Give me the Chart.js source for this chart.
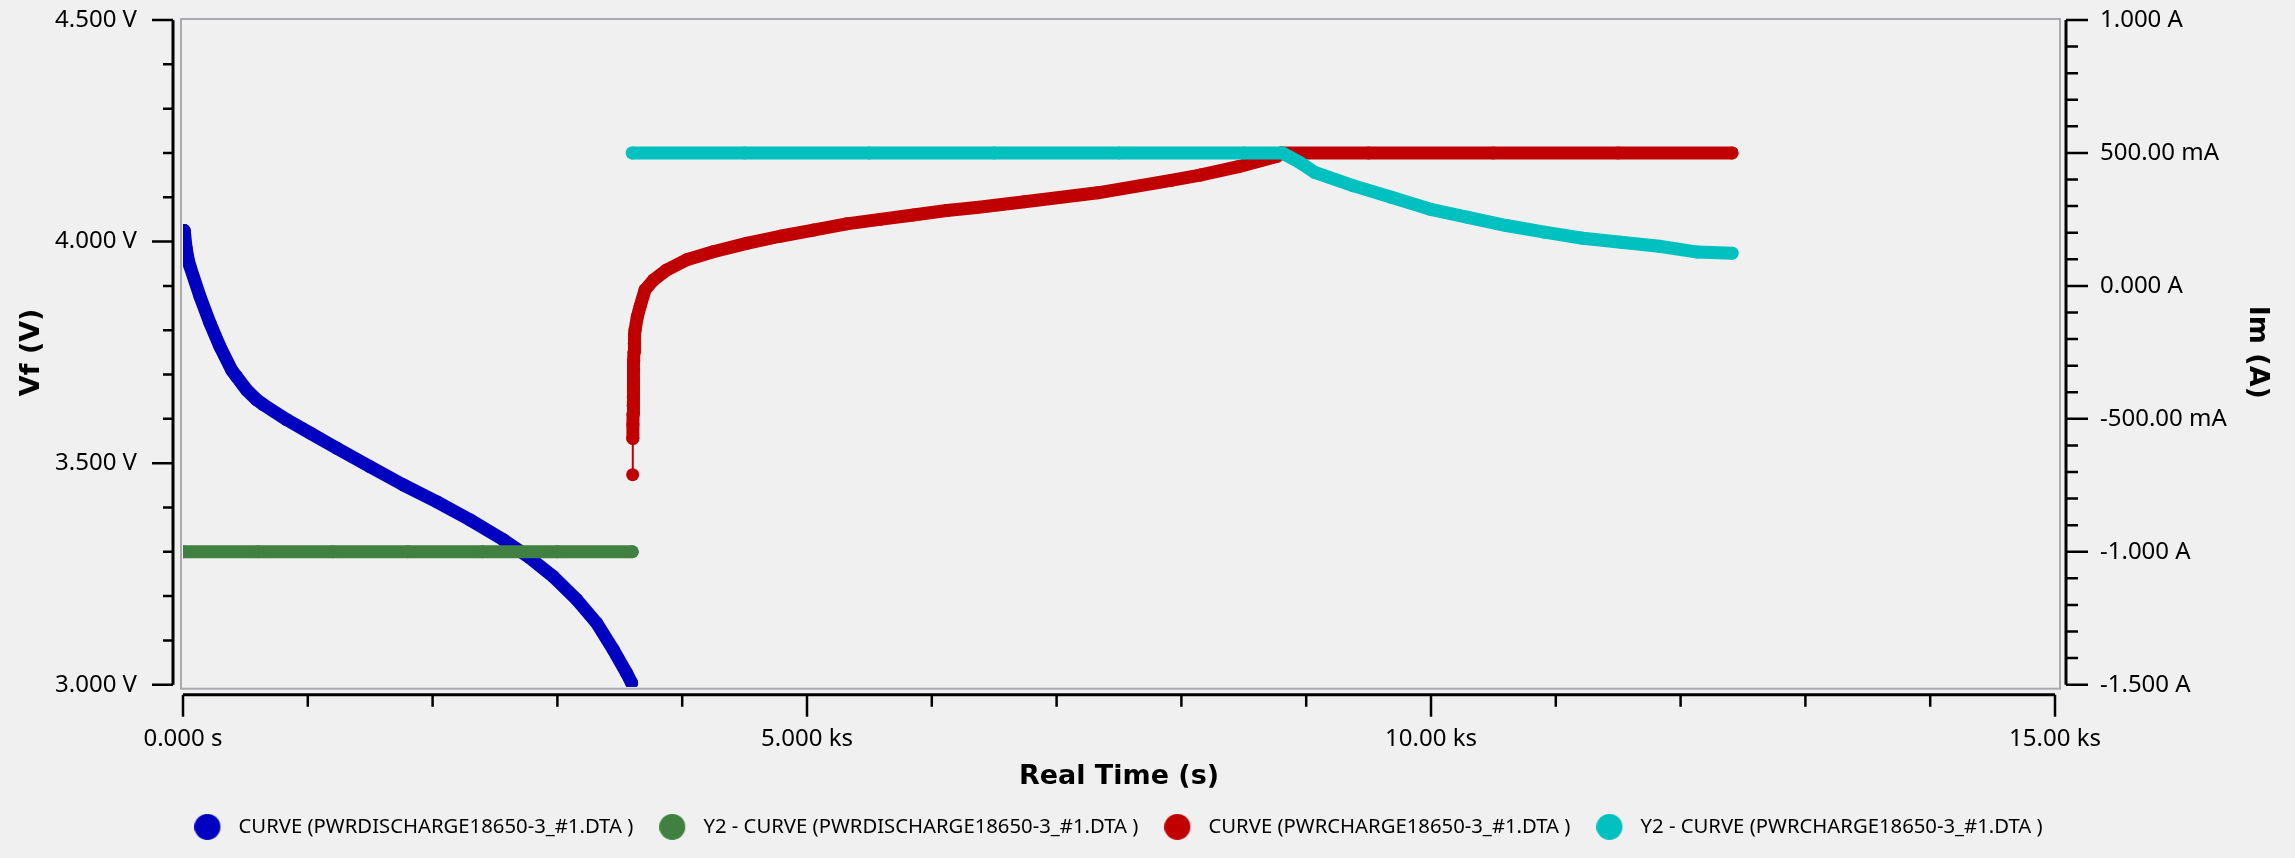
<!DOCTYPE html>
<html>
<head>
<meta charset="utf-8">
<title>Vf / Im vs Real Time</title>
<script src="https://cdn.jsdelivr.net/npm/chart.js@4.4.1/dist/chart.umd.min.js"></script>
<style>
  html, body { margin: 0; padding: 0; background: #f0f0f0; }
  #wrap { width: 2295px; height: 858px; }
</style>
</head>
<body>
<div id="wrap"><canvas id="myChart"></canvas></div>
<script>
// discharge file: PWRDISCHARGE18650-3_#1.DTA
const dischargeTime = [10, 25, 45, 56, 136, 216, 296, 390, 430, 510, 590, 644, 831, 1018, 1231, 1498, 1765, 2033, 2300, 2567, 2780, 2967, 3155, 3315, 3448, 3555, 3595];
const dischargeVf = [4.025, 3.985, 3.955, 3.944, 3.876, 3.816, 3.763, 3.710, 3.695, 3.665, 3.643, 3.632, 3.598, 3.568, 3.534, 3.492, 3.451, 3.413, 3.372, 3.327, 3.286, 3.244, 3.192, 3.139, 3.079, 3.026, 3.004];
const dischargeImTime = [0, 600, 1200, 1800, 2400, 3000, 3600];
const dischargeIm = [-1.0, -1.0, -1.0, -1.0, -1.0, -1.0, -1.0];

// charge file: PWRCHARGE18650-3_#1.DTA
const chargeTime = [3603, 3604, 3605, 3606, 3607, 3608, 3609, 3610, 3611, 3612, 3614, 3616, 3619, 3622, 3640, 3662, 3702, 3769, 3876, 4036, 4249, 4516, 4784, 5051, 5318, 5585, 5852, 6119, 6360, 6744, 7330, 7917, 8149, 8457, 8762, 8800, 9500, 10500, 11500, 12412];
const chargeVf = [3.474, 3.556, 3.586, 3.610, 3.630, 3.650, 3.670, 3.690, 3.710, 3.730, 3.750, 3.770, 3.790, 3.800, 3.830, 3.853, 3.891, 3.913, 3.936, 3.959, 3.977, 3.996, 4.012, 4.026, 4.040, 4.050, 4.060, 4.070, 4.077, 4.090, 4.110, 4.138, 4.150, 4.169, 4.192, 4.200, 4.200, 4.200, 4.200, 4.200];
const chargeImTime = [3600, 4500, 5500, 6500, 7500, 8500, 8809, 8946, 9068, 9375, 9683, 9989, 10296, 10603, 10909, 11216, 11522, 11829, 12135, 12412];
const chargeIm = [0.5, 0.5, 0.5, 0.5, 0.5, 0.5, 0.5, 0.465, 0.427, 0.377, 0.333, 0.289, 0.258, 0.227, 0.202, 0.179, 0.164, 0.149, 0.127, 0.123];

const seriesNames = [
  'CURVE (PWRDISCHARGE18650-3_#1.DTA )',
  'Y2 - CURVE (PWRDISCHARGE18650-3_#1.DTA )',
  'CURVE (PWRCHARGE18650-3_#1.DTA )',
  'Y2 - CURVE (PWRCHARGE18650-3_#1.DTA )'
];
const seriesColors = ['#0000c0', '#408040', '#c00000', '#00c0c0'];

const timeTicks = [0, 5000, 10000, 15000];
const timeTickLabels = ['0.000 s', '5.000 ks', '10.00 ks', '15.00 ks'];
const vfTicks = [3, 3.5, 4, 4.5];
const vfTickLabels = ['3.000 V', '3.500 V', '4.000 V', '4.500 V'];
const imTicks = [-1.5, -1, -0.5, 0, 0.5, 1];
const imTickLabels = ['-1.500 A', '-1.000 A', '-500.00 mA', '0.000 A', '500.00 mA', '1.000 A'];

Chart.defaults.font.family = 'Noto Sans';
Chart.defaults.color = '#000';

function pts(xs, ys){
  return xs.map((x, i) => ({x: x, y: ys[i]}));
}

function makeSet(i, xs, ys, axis, order){
  return {
    label: seriesNames[i],
    data: pts(xs, ys),
    yAxisID: axis,
    order: order,
    borderColor: seriesColors[i],
    backgroundColor: seriesColors[i],
    pointBackgroundColor: seriesColors[i],
    pointBorderWidth: 0,
    pointRadius: 6.5,
    borderWidth: 13,
    borderCapStyle: 'round',
    borderJoinStyle: 'round',
    tension: 0,
    clip: {left: 0, top: 1, right: 5, bottom: 2},
    segment: {
      // long near-vertical jumps between samples are drawn as a thin connector
      borderWidth: c => (Math.abs(c.p1.x - c.p0.x) < 3 && Math.abs(c.p1.y - c.p0.y) > 30) ? 2 : undefined
    }
  };
}

function fixedTicks(list){
  return function(scale){
    scale.ticks = list.map(v => ({value: v}));
  };
}

function noPad(scale){
  scale.paddingTop = 0;
  scale.paddingBottom = 0;
  scale.paddingLeft = 0;
  scale.paddingRight = 0;
}

// legend marker: round dot with some empty room on its right
function legendDot(color){
  const c = document.createElement('canvas');
  c.width = 34;
  c.height = 26;
  const g = c.getContext('2d');
  g.fillStyle = color;
  g.beginPath();
  g.arc(13, 13, 13, 0, Math.PI * 2);
  g.fill();
  return c;
}

// axes are drawn a few px off the plot box, with minor ticks
function drawAxis(ctx, scale, area, side, minor, major){
  const n = Math.round((scale.max - scale.min) / minor);
  ctx.lineWidth = 3;
  ctx.beginPath();
  if (side === 'bottom'){
    const y0 = area.bottom + 10;
    ctx.moveTo(scale.getPixelForValue(scale.min), y0);
    ctx.lineTo(scale.getPixelForValue(scale.max), y0);
  } else {
    const x0 = side === 'left' ? area.left - 10 : area.right + 11;
    ctx.moveTo(x0, scale.getPixelForValue(scale.max));
    ctx.lineTo(x0, scale.getPixelForValue(scale.min));
  }
  ctx.stroke();
  ctx.lineWidth = 2.5;
  ctx.beginPath();
  for (let i = 0; i <= n; i++){
    const v = scale.min + i * minor;
    const r = v / major;
    const isMajor = Math.abs(r - Math.round(r)) < 1e-6;
    const p = scale.getPixelForValue(v);
    if (side === 'bottom'){
      const y0 = area.bottom + 10;
      ctx.moveTo(p, y0);
      ctx.lineTo(p, y0 + (isMajor ? 22 : 12));
    } else if (side === 'left'){
      const x0 = area.left - 10;
      ctx.moveTo(x0, p);
      ctx.lineTo(x0 - (isMajor ? 21 : 10), p);
    } else {
      const x0 = area.right + 11;
      ctx.moveTo(x0, p);
      ctx.lineTo(x0 + (isMajor ? 22 : 12), p);
    }
  }
  ctx.stroke();
}

const axisDecor = {
  id: 'axisDecor',
  beforeDatasetsDraw(chart){
    const {ctx, chartArea: a} = chart;
    ctx.save();
    ctx.strokeStyle = '#a8aaae';
    ctx.lineWidth = 2;
    ctx.strokeRect(a.left - 2, a.top - 1, a.right - a.left + 7, a.bottom - a.top + 5);
    ctx.restore();
  },
  afterDraw(chart){
    const {ctx, chartArea: a, scales} = chart;
    ctx.save();
    ctx.strokeStyle = '#000';
    drawAxis(ctx, scales.x, a, 'bottom', 1000, 5000);
    drawAxis(ctx, scales.y, a, 'left', 0.1, 0.5);
    drawAxis(ctx, scales.y2, a, 'right', 0.1, 0.5);
    ctx.restore();
  }
};

const titleFont = {family: 'DejaVu Sans', size: 27, weight: 'bold', lineHeight: 1.05};
const tickFont = {family: 'Noto Sans', size: 24};

const ctx = document.getElementById('myChart');
const myChart = new Chart(ctx, {
  type: 'line',
  data: {
    datasets: [
      makeSet(0, dischargeTime, dischargeVf, 'y', 4),
      makeSet(1, dischargeImTime, dischargeIm, 'y2', 3),
      makeSet(2, chargeTime, chargeVf, 'y', 2),
      makeSet(3, chargeImTime, chargeIm, 'y2', 1)
    ]
  },
  options: {
    responsive: true,
    maintainAspectRatio: false,
    animation: false,
    events: [],
    // right padding keeps the legend centred under the plot box
    layout: { padding: {top: 20, bottom: 11, left: 0, right: 58} },
    scales: {
      x: {
        type: 'linear',
        min: 0,
        max: 15000,
        grid: { display: false, drawTicks: false },
        border: { display: false },
        afterBuildTicks: fixedTicks(timeTicks),
        afterFit: s => { s.height = 106; noPad(s); },
        ticks: {
          font: tickFont,
          padding: 40,
          maxRotation: 0,
          callback: v => timeTickLabels[timeTicks.indexOf(v)]
        },
        title: { display: true, text: 'Real Time (s)', font: titleFont, padding: {top: 0, bottom: 0} }
      },
      y: {
        position: 'left',
        min: 3,
        max: 4.5,
        grid: { display: false, drawTicks: false },
        border: { display: false },
        afterBuildTicks: fixedTicks(vfTicks),
        afterFit: s => { s.width = 183; noPad(s); },
        ticks: {
          font: tickFont,
          padding: 46,
          callback: v => vfTickLabels[vfTicks.indexOf(v)]
        },
        title: { display: true, text: 'Vf (V)', font: titleFont, padding: {top: 18, bottom: 0} }
      },
      y2: {
        position: 'right',
        min: -1.5,
        max: 1,
        grid: { display: false, drawTicks: false },
        border: { display: false },
        afterBuildTicks: fixedTicks(imTicks),
        afterFit: s => { s.width = 182; noPad(s); },
        ticks: {
          font: tickFont,
          padding: 45,
          callback: v => imTickLabels[imTicks.indexOf(v)]
        },
        title: { display: true, text: 'Im (A)', font: titleFont, padding: {top: -34, bottom: 0} }
      }
    },
    plugins: {
      tooltip: { enabled: false },
      legend: {
        position: 'bottom',
        labels: {
          usePointStyle: true,
          pointStyleWidth: 34,
          boxHeight: 18,
          padding: 26,
          color: '#000',
          font: { family: 'Noto Sans', size: 20.3 },
          sort: (a, b) => a.datasetIndex - b.datasetIndex,
          generateLabels: chart => Chart.defaults.plugins.legend.labels.generateLabels(chart).map(item => {
            item.pointStyle = legendDot(seriesColors[item.datasetIndex]);
            return item;
          })
        }
      }
    }
  },
  plugins: [axisDecor]
});
</script>
</body>
</html>
